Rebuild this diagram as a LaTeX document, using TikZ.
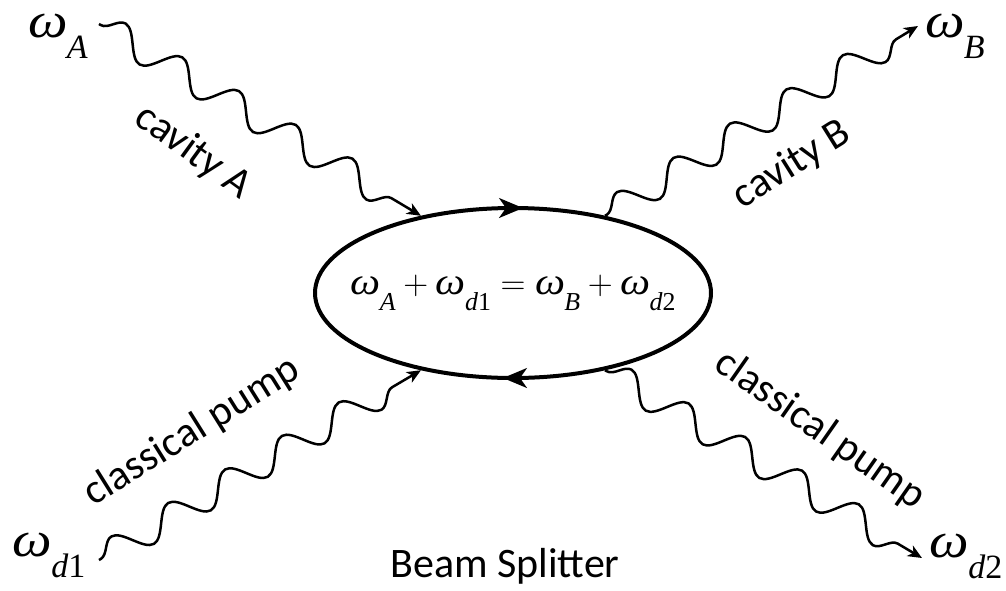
\documentclass[tikz,border=0pt]{standalone}
\usepackage{graphicx}
\usepackage{fontspec}
\setmainfont{Carlito}
\newfontfamily\tnr{Liberation Serif}
\usetikzlibrary{arrows.meta,decorations.pathmorphing,shapes.geometric}
\newcommand{\W}[1]{{\tnr\itshape\scalebox{1.12}[1]{ω}\kern-0.02em\raisebox{-0.42em}{\scalebox{0.68}{#1}}}}
\begin{document}
\begin{tikzpicture}[x=0.5pt,y=-0.5pt,
  wave/.style={line width=1.25pt, decorate, decoration={snake, amplitude=7pt, segment length=33pt, pre length=1pt, post length=7pt}},
  lbl/.style={font=\fontsize{21}{25}\selectfont, inner sep=0pt},
  om/.style={font=\fontsize{25}{29}\selectfont, inner sep=0pt},
  tip/.style={-{Stealth[length=7pt,width=6pt,inset=2pt]}},
  looptip/.style={line width=1.2pt, -{Stealth[length=12pt,width=10pt,inset=3.5pt]}}]
\useasboundingbox (0,0) rectangle (1006,590);
% loop
\node[ellipse, draw, line width=2pt, minimum width=198pt, minimum height=85pt, inner sep=0pt] (E) at (513,293) {};
\node[font=\fontsize{19}{23}\selectfont, inner sep=0pt] (eq) at (513,293)
  {\W{\itshape A}${}+{}$\W{\itshape d\upshape 1}${}={}$\W{\itshape B}${}+{}$\W{\itshape d\upshape 2}};
\draw[looptip] ([xshift=-7pt,yshift=-1pt]E.north) -- ([xshift=5pt,yshift=-1pt]E.north);
\draw[looptip] ([xshift=7pt,yshift=1pt]E.south) -- ([xshift=-5pt,yshift=1pt]E.south);
% corner labels
\node[om] (wA) at (58,36) {\W{\itshape A}};
\node[om] (wB) at (955,36) {\W{\itshape B}};
\node[om] (wd1) at (49,555) {\W{\itshape d\upshape 1}};
\node[om] (wd2) at (966,556) {\W{\itshape d\upshape 2}};
\coordinate (a0) at (99,24);
\coordinate (b1) at (918,26);
\coordinate (c0) at (99,560);
\coordinate (d1) at (922,558);
% waves
\draw[wave, tip] (a0) -- (E.140);
\draw[wave, tip] (E.40) -- (b1);
\draw[wave, tip] (c0) -- (E.220);
\draw[wave, tip] (E.-40) -- (d1);
% text labels
\node[lbl, rotate=-36] (lA) at (193,152) {cavity A};
\node[lbl, rotate=32] (lB) at (792,165) {cavity B};
\node[lbl, rotate=32] (lp1) at (192,432) {classical pump};
\node[lbl, rotate=-35] (lp2) at (820,430) {classical pump};
\node[lbl] (bs) at (505,566) {Beam Splitter};
\end{tikzpicture}
\end{document}
